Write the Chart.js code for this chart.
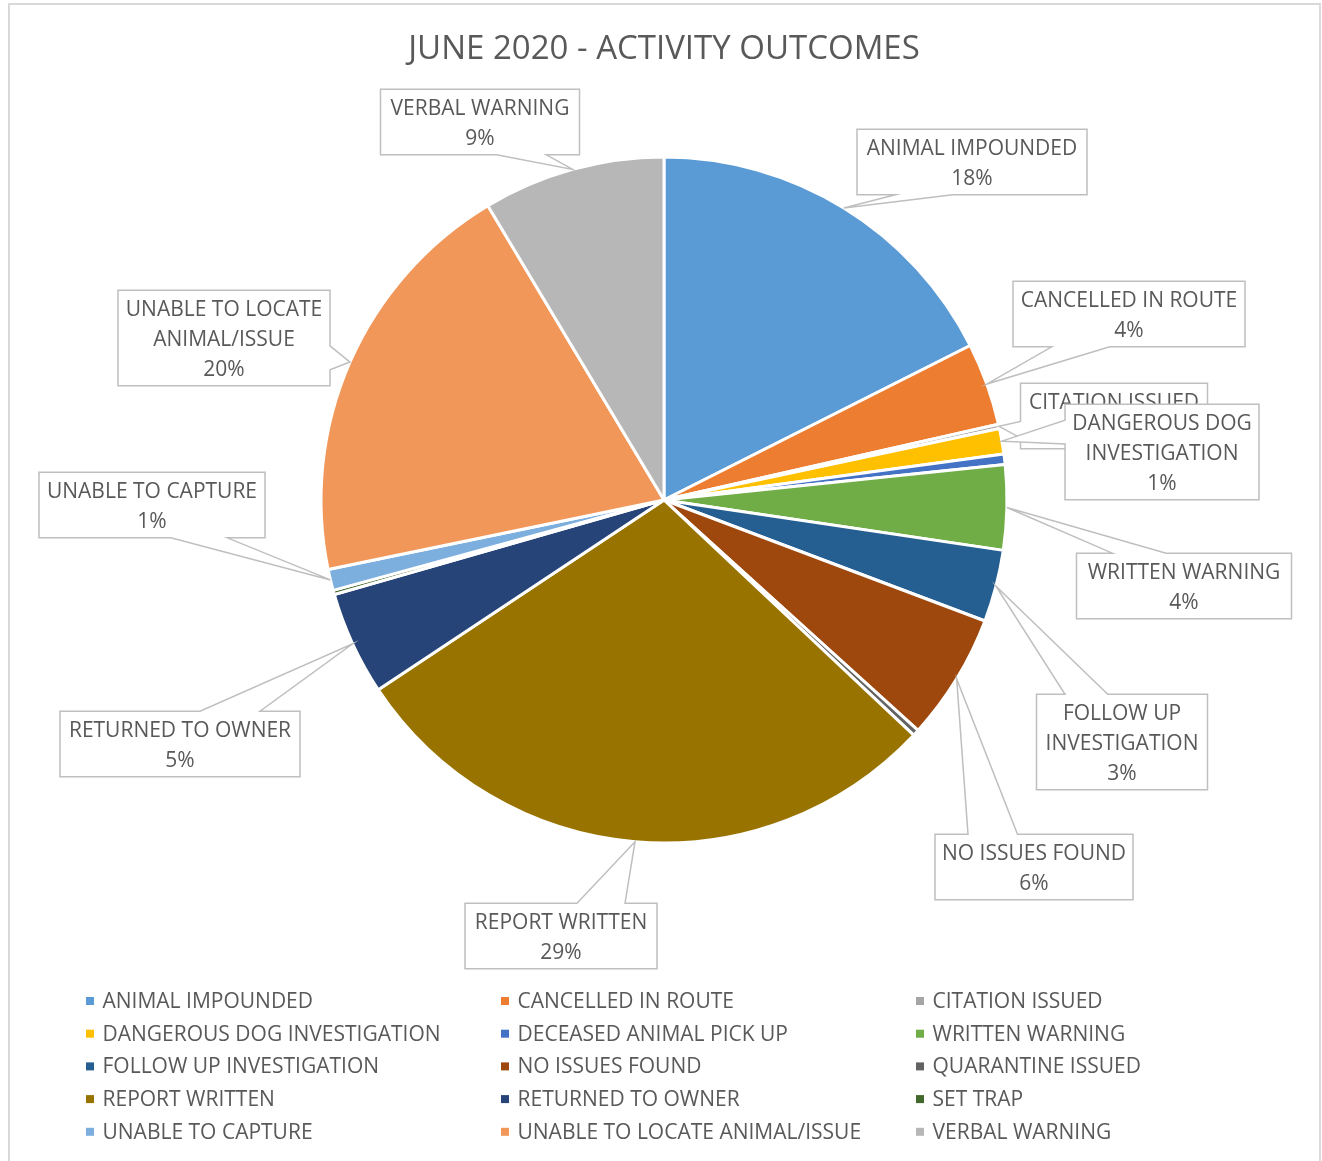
<!DOCTYPE html>
<html>
<head>
<meta charset="utf-8">
<title>June 2020 - Activity Outcomes</title>
<script src="https://cdn.jsdelivr.net/npm/chart.js@4.4.1/dist/chart.umd.min.js"></script>
<style>
  html, body { margin: 0; padding: 0; background: #fff; }
  #wrap { position: relative; width: 1322px; height: 1161px; }
</style>
</head>
<body>
<div id="wrap"><canvas id="outcomesChart"></canvas></div>
<script>
// Data (share of activities, clockwise from 12 o'clock)
const categories = [
    'ANIMAL IMPOUNDED', 'CANCELLED IN ROUTE', 'CITATION ISSUED',
    'DANGEROUS DOG INVESTIGATION', 'DECEASED ANIMAL PICK UP', 'WRITTEN WARNING',
    'FOLLOW UP INVESTIGATION', 'NO ISSUES FOUND', 'QUARANTINE ISSUED',
    'REPORT WRITTEN', 'RETURNED TO OWNER', 'SET TRAP',
    'UNABLE TO CAPTURE', 'UNABLE TO LOCATE ANIMAL/ISSUE', 'VERBAL WARNING'
];
const outcomeValues = [17.6, 3.9, 0.2, 1.2, 0.5, 4.0, 3.4, 6.0, 0.3, 28.7, 4.9, 0.2, 1.0, 19.7, 8.6];
const sliceColors = [
    '#5B9BD5', '#ED7D31', '#A5A5A5', '#FFC000', '#4472C4', '#70AD47',
    '#255E91', '#9E480E', '#636363', '#997300', '#264478', '#43682B',
    '#7CAFDD', '#F1975A', '#B7B7B7'
];

// Callout boxes: centre offset from the pie centre + box width (null = no label)
const calloutBoxes = [
    [308, -338, 230], [465, -186, 232], [450, -84, 187],
    [498, -48, 194], null, [520, 86, 215],
    [458, 242, 171], [370, 367, 198], null,
    [-103, 436, 192], [-484, 244, 240], null,
    [-512, 5, 226], [-440, -162, 212], [-184, -378, 199]
];

const FONT = '"Open Sans", "DejaVu Sans", sans-serif';
const TEXT_COLOR = '#595959';
const LABEL_SIZE = 21;
const TITLE_SIZE = 33;
const SLICE_GAP = 3;

function wrapWords(ctx, text, maxWidth) {
    const words = text.split(' ');
    const lines = [];
    let line = '';
    words.forEach(w => {
        const test = line ? line + ' ' + w : w;
        if (line && ctx.measureText(test).width > maxWidth) {
            lines.push(line);
            line = w;
        } else {
            line = test;
        }
    });
    if (line) lines.push(line);
    return lines;
}

// rectangle with a wedge pointing at (tx, ty), like the office callout shape
function calloutPath(ctx, l, t, w, h, tx, ty) {
    const r = l + w, b = t + h;
    const dxPos = tx - (l + w / 2), dyPos = ty - (t + h / 2);
    const horiz = Math.abs(dxPos * h) > Math.abs(dyPos * w);
    const xa = l + w * (dxPos > 0 ? 7 : 2) / 12, xb = l + w * (dxPos > 0 ? 10 : 5) / 12;
    const ya = t + h * (dyPos > 0 ? 7 : 2) / 12, yb = t + h * (dyPos > 0 ? 10 : 5) / 12;
    ctx.beginPath();
    ctx.moveTo(l, t);
    if (!horiz && dyPos < 0) { ctx.lineTo(xa, t); ctx.lineTo(tx, ty); ctx.lineTo(xb, t); }
    ctx.lineTo(r, t);
    if (horiz && dxPos > 0) { ctx.lineTo(r, ya); ctx.lineTo(tx, ty); ctx.lineTo(r, yb); }
    ctx.lineTo(r, b);
    if (!horiz && dyPos > 0) { ctx.lineTo(xb, b); ctx.lineTo(tx, ty); ctx.lineTo(xa, b); }
    ctx.lineTo(l, b);
    if (horiz && dxPos < 0) { ctx.lineTo(l, yb); ctx.lineTo(tx, ty); ctx.lineTo(l, ya); }
    ctx.closePath();
}

const frameBorder = {
    id: 'frameBorder',
    beforeDraw(chart) {
        const ctx = chart.ctx;
        ctx.save();
        ctx.strokeStyle = '#D9D9D9';
        ctx.lineWidth = 2;
        ctx.strokeRect(9, 4, chart.width - 11, chart.height + 20);
        ctx.restore();
    }
};

const calloutLabels = {
    id: 'calloutLabels',
    afterDatasetsDraw(chart) {
        const ctx = chart.ctx;
        const meta = chart.getDatasetMeta(0);
        const total = outcomeValues.reduce((a, b) => a + b, 0);
        ctx.save();
        ctx.font = `${LABEL_SIZE}px ${FONT}`;
        ctx.textAlign = 'center';
        ctx.textBaseline = 'middle';
        meta.data.forEach((arc, i) => {
            const box = calloutBoxes[i];
            if (!box) return;
            const p = arc.getProps(['x', 'y', 'startAngle', 'endAngle', 'outerRadius'], true);
            const mid = (p.startAngle + p.endAngle) / 2;
            const tx = p.x + Math.cos(mid) * p.outerRadius;
            const ty = p.y + Math.sin(mid) * p.outerRadius;
            const pct = Math.round(outcomeValues[i] / total * 100) + '%';
            const lines = wrapWords(ctx, categories[i], box[2] - 12).concat(pct);
            const lineGap = 29.7;
            const w = box[2];
            const h = 36 + (lines.length - 1) * lineGap;
            const cx = p.x + box[0], cy = p.y + box[1];
            const l = cx - w / 2, t = cy - h / 2;
            calloutPath(ctx, l, t, w, h, tx, ty);
            ctx.fillStyle = '#fff';
            ctx.fill();
            ctx.strokeStyle = '#BFBFBF';
            ctx.lineWidth = 1.5;
            ctx.stroke();
            ctx.fillStyle = TEXT_COLOR;
            lines.forEach((ln, k) => ctx.fillText(ln, cx, t + 20 + k * lineGap));
        });
        ctx.restore();
    }
};

// three-column legend under the pie
const legendGrid = {
    id: 'legendGrid',
    afterDraw(chart) {
        const ctx = chart.ctx;
        const left = 86, top = 1001, colW = 415, rowH = 32.7;
        ctx.save();
        ctx.font = `${LABEL_SIZE}px ${FONT}`;
        ctx.textAlign = 'left';
        ctx.textBaseline = 'middle';
        categories.forEach((c, i) => {
            const x = left + (i % 3) * colW;
            const y = top + Math.floor(i / 3) * rowH;
            ctx.fillStyle = sliceColors[i];
            ctx.fillRect(x, y - 4, 8, 8);
            ctx.fillStyle = TEXT_COLOR;
            ctx.fillText(c, x + 16.5, y + 1);
        });
        ctx.restore();
    }
};

const titleLine = 1.2;
const titleTop = 50 - TITLE_SIZE * titleLine / 2;
const pieTop = 157 - SLICE_GAP / 2;

new Chart(document.getElementById('outcomesChart'), {
    type: 'pie',
    data: {
        labels: categories,
        datasets: [{
            data: outcomeValues,
            backgroundColor: sliceColors,
            borderColor: '#fff',
            borderWidth: SLICE_GAP
        }]
    },
    options: {
        responsive: true,
        maintainAspectRatio: false,
        animation: false,
        layout: {
            padding: { left: 321 - SLICE_GAP / 2, right: 315 - SLICE_GAP / 2, top: 0, bottom: 318 - SLICE_GAP / 2 }
        },
        plugins: {
            legend: { display: false },
            tooltip: { enabled: false },
            title: {
                display: true,
                text: 'JUNE 2020 - ACTIVITY OUTCOMES',
                color: TEXT_COLOR,
                font: { family: FONT, size: TITLE_SIZE, weight: 'normal', lineHeight: titleLine },
                padding: { top: titleTop, bottom: pieTop - titleTop - TITLE_SIZE * titleLine }
            }
        }
    },
    plugins: [frameBorder, calloutLabels, legendGrid]
});
</script>
</body>
</html>
